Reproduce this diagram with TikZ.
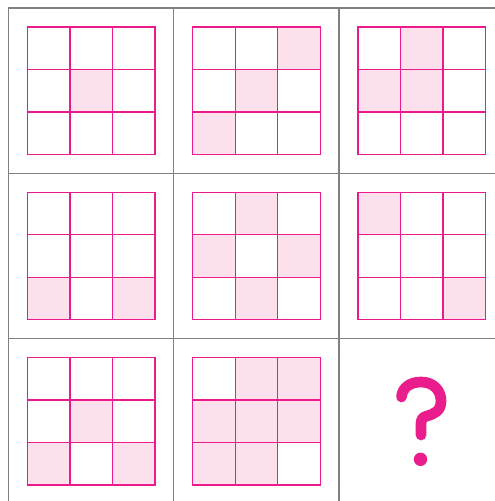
\documentclass[tikz,border=0pt]{standalone}
\definecolor{gridgray}{HTML}{808080}
\definecolor{magline}{HTML}{EC1A8C}
\definecolor{magfill}{HTML}{FCE0EC}
\definecolor{qmark}{HTML}{E91E8C}
\tikzset{
  gridline/.style={draw=gridgray, line width=1.5pt},
  pinkline/.style={draw=magline, line width=1.3pt, line cap=rect},
  cellfill/.style={fill=magfill},
}
\newcommand\minigrid[3]{%
  \begin{scope}[shift={(#1+19,#2+19)}]
    \foreach \r/\c in {#3} \fill[cellfill] ({(\c-1)*42.5},{(\r-1)*42.5}) rectangle +(42.5,42.5);
    \foreach \k in {0,1,2,3} {
      \draw[pinkline] ({\k*42.5},0) -- ({\k*42.5},127.5);
      \draw[pinkline] (0,{\k*42.5}) -- (127.5,{\k*42.5});
    }
  \end{scope}}
\begin{document}
\begin{tikzpicture}[x=1pt,y=-1pt]
\useasboundingbox (0,0) rectangle (495,501);
\fill[white] (0,0) rectangle (495,501);
% outer grid
\foreach \yy in {8,173.3,338.6} \draw[gridline] (7.65,\yy) -- (495,\yy);
\foreach \xx in {8.4,173.7,339} \draw[gridline] (\xx,7.25) -- (\xx,501);
% panels
\minigrid{8.4}{8}{2/2}
\minigrid{173.7}{8}{1/3,2/2,3/1}
\minigrid{339}{8}{1/2,2/1,2/2}
\minigrid{8.4}{173.3}{3/1,3/3}
\minigrid{173.7}{173.3}{1/2,2/1,2/3,3/2}
\minigrid{339}{173.3}{1/1,3/3}
\minigrid{8.4}{338.6}{2/2,3/1,3/3}
\minigrid{173.7}{338.6}{1/2,1/3,2/1,2/2,2/3,3/1,3/2}
% question mark
\draw[qmark, line width=10.7pt, line cap=round, line join=round]
  (401.5,397) .. controls (402,388) and (410,382) .. (421,382)
  .. controls (433,382) and (441,390) .. (441,401)
  .. controls (441,411) and (434,414) .. (427,416)
  .. controls (423,417) and (421,419) .. (421,424) -- (421,435);
\fill[qmark] (420.5,459.3) circle (6.7);
\end{tikzpicture}
\end{document}
